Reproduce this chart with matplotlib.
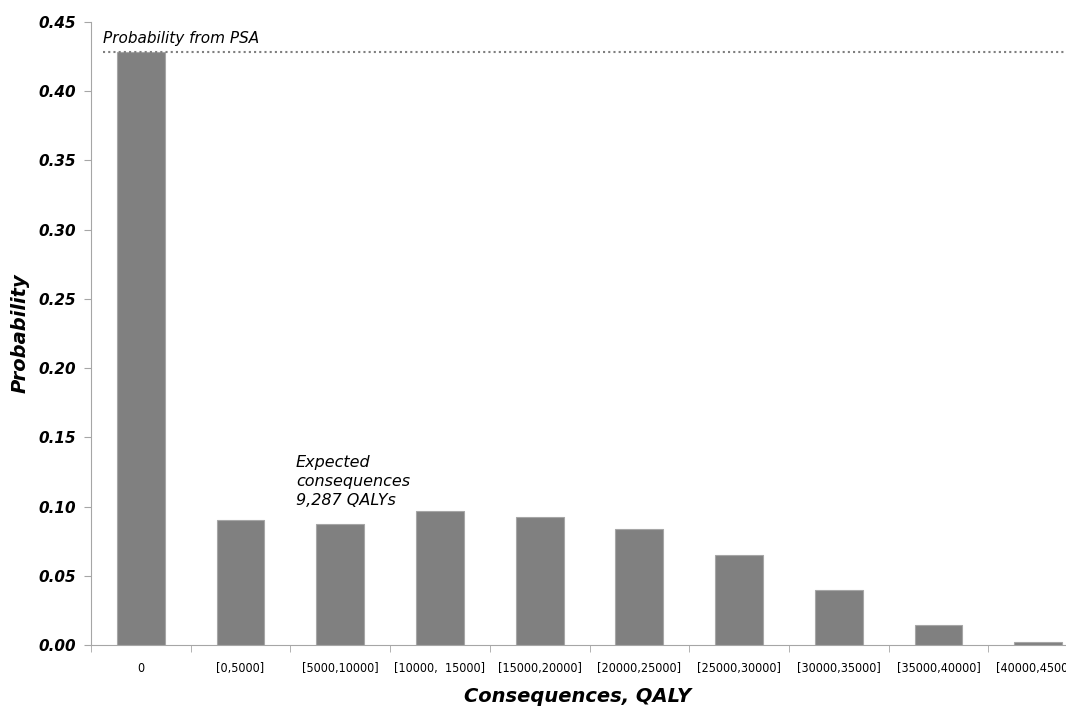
import matplotlib
matplotlib.use("Agg")
import matplotlib.pyplot as plt

categories = ["0", "[0,5000]", "[5000,10000]", "[10000,  15000]", "[15000,20000]",
              "[20000,25000]", "[25000,30000]", "[30000,35000]", "[35000,40000]",
              "[40000,45000]"]
probability = [0.428, 0.090, 0.0875, 0.0966, 0.0925, 0.084, 0.065, 0.0395, 0.0148, 0.002]
psa_prob = 0.428
yticks = [0.00, 0.05, 0.10, 0.15, 0.20, 0.25, 0.30, 0.35, 0.40, 0.45]

fig = plt.figure(figsize=(10.66, 7.08), dpi=100)
# axes runs past the right edge, as in the original (last label cut off)
ax = fig.add_axes([91 / 1066, (708 - 645) / 708, 997 / 1066, (645 - 22) / 708])

x = list(range(len(categories)))
ax.bar(x, probability, width=0.48, color="#808080", edgecolor="#a6a6a6", linewidth=0.8)
ax.hlines(psa_prob, -0.38, 10, colors="#7f7f7f", linestyles=(0, (1, 1.5)), linewidth=1.5)

ax.set_xlim(-0.5, len(categories) - 0.5)
ax.set_ylim(0, 0.45)
ax.set_yticks(yticks)
ax.set_yticklabels(["%.2f" % v for v in yticks], fontsize=11, fontweight="bold", style="italic")
ax.set_xticks(x)
ax.set_xticklabels(categories, fontsize=9, fontstretch="condensed")
ax.tick_params(axis="x", length=0, pad=12)
ax.set_xticks([i - 0.5 for i in x], minor=True)
ax.tick_params(axis="x", which="minor", length=5, color="#a6a6a6")
ax.tick_params(axis="y", length=5, color="#a6a6a6", pad=6)

for s in ["top", "right"]:
    ax.spines[s].set_visible(False)
for s in ["left", "bottom"]:
    ax.spines[s].set_color("#a6a6a6")

ax.set_ylabel("Probability", fontsize=14, fontweight="bold", style="italic", labelpad=6)
fig.text(578 / 1066, (708 - 697) / 708, "Consequences, QALY", fontsize=14,
         fontweight="bold", style="italic", ha="center", va="center")

ax.text(-0.38, 0.433, "Probability from PSA", fontsize=11, style="italic", va="bottom")
ax.text(1.556, 0.137, "Expected\nconsequences\n9,287 QALYs", fontsize=11.5, style="italic",
        va="top", linespacing=1.3)

fig.savefig("out.png", dpi=100)
